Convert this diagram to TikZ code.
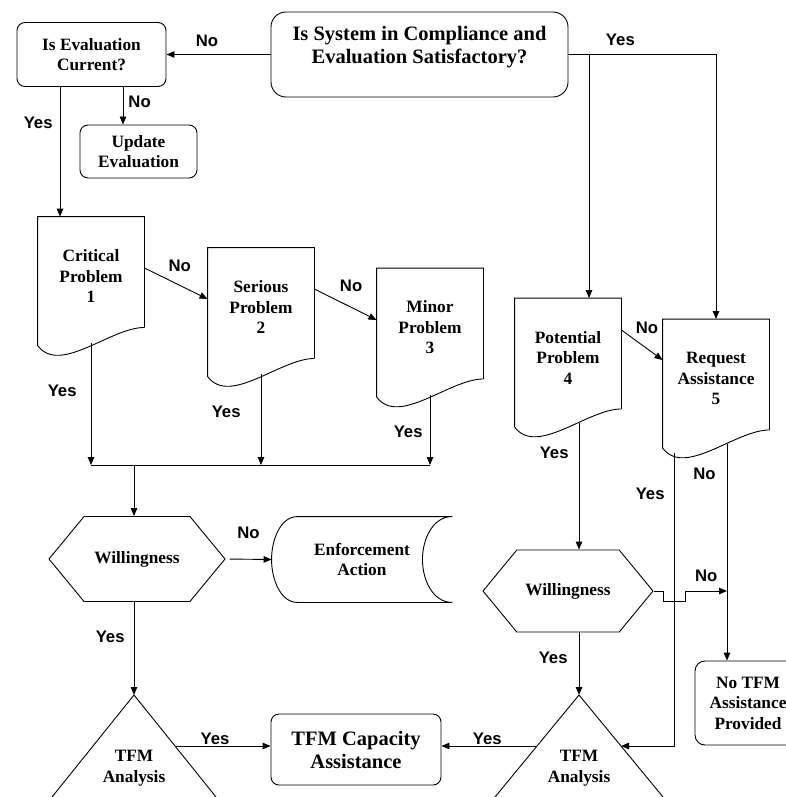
\documentclass[tikz,border=0pt]{standalone}
\usepackage{fontspec}
\setmainfont{Liberation Serif}
\newfontfamily\labelfont{Liberation Sans}
\usetikzlibrary{arrows.meta,positioning,shapes.symbols}

\begin{document}
\begin{tikzpicture}[x=1pt,y=-1pt,>={Triangle[length=8pt,width=6.5pt]},line width=0.9pt]
	\clip (0,0) rectangle (786,797);
	\tikzset{every node/.style={align=center,font=\fontsize{17.3}{20.5}\selectfont\bfseries}}
	\tikzset{box/.style={draw,rounded corners=8pt,inner sep=0pt}}
	\tikzset{bigtext/.style={font=\fontsize{20.5}{23}\selectfont\bfseries}}
	\tikzset{docbox/.style={minimum width=106pt,minimum height=118pt,inner sep=0pt}}
	\tikzset{hexbox/.style={draw,signal,signal to=west and east,signal pointer angle=101,inner sep=0pt}}
	\tikzset{lbl/.style={font=\fontsize{16.7}{20}\selectfont\labelfont\bfseries,inner sep=2pt}}
	% boxes
	\node[box,bigtext,rounded corners=15pt,minimum width=297pt,minimum height=85pt] (sys) at (419.5,54.5) {Is System in Compliance and\\Evaluation Satisfactory?\\[-4pt]~};
	\node[box,minimum width=149pt,minimum height=64pt] (eval) at (91.5,54.5) {Is Evaluation\\Current?};
	\node[box,minimum width=117pt,minimum height=53pt] (upd) at (138.5,151.5) {Update\\Evaluation};
	\node[docbox] (crit) at (91,276) {Critical\\Problem\\1};
	\node[docbox] (serious) at (261,307) {Serious\\Problem\\2};
	\node[docbox] (minor) at (430,327.5) {Minor\\Problem\\3};
	\node[docbox] (potential) at (568,357.5) {Potential\\Problem\\4};
	\node[docbox] (request) at (716,378.5) {Request\\Assistance\\5};
	\node[hexbox,minimum width=176pt,minimum height=85pt] (will1) at (137,559) {Willingness};
	\node[minimum width=180pt,minimum height=85pt,inner sep=0pt] (enf) at (362,559.5) {Enforcement\\Action};
	\node[hexbox,minimum width=170pt,minimum height=82pt] (will2) at (568,591) {Willingness};
	\node[box,bigtext,minimum width=170pt,minimum height=71pt] (cap) at (356,749.5) {TFM Capacity\\Assistance};
	\node[box,rounded corners=10pt,minimum width=106pt,minimum height=84pt] (notfm) at (748,703) {No TFM\\Assistance\\Provided};
	\node (tfm1) at (134,768) {TFM\\Analysis};
	\node (tfm2) at (579,768) {TFM\\Analysis};
	\coordinate (apex1) at (134,695);
	\coordinate (apex2) at (579,695);
	\coordinate (bus) at (134,465);
	% outlines
	\foreach \n in {crit,serious,minor,potential,request}
		\draw ([yshift=8pt]\n.south east) -- (\n.north east) -- (\n.north west) -- ([yshift=-10pt]\n.south west) .. controls +(22,30) and +(-34,0) .. ([yshift=8pt]\n.south east);
	\draw (enf.north east) -- ([xshift=26pt]enf.north west) .. controls +(-17,0) and +(0,-20) .. (enf.west)
		.. controls +(0,20) and +(-17,0) .. ([xshift=26pt]enf.south west) -- (enf.south east)
		.. controls +(-20,0) and +(0,20) .. ([xshift=-30pt]enf.east) .. controls +(0,-20) and +(-20,0) .. (enf.north east);
	\draw (apex1) -- ++(-164,204) (apex1) -- node[coordinate,pos=.25] (t1r) {} ++(164,204);
	\draw (apex2) -- node[coordinate,pos=.25] (t2l) {} ++(-168,204) (apex2) -- node[coordinate,pos=.25] (t2r) {} ++(168,204);
	% left branch
	\path[->] (sys.west) edge node[lbl,above=5.5pt,pos=.61] {No} (eval.east);
	\draw[->] ([xshift=31.5pt]eval.south) -- node[lbl,right=3pt,pos=.4] {No} ([xshift=31.5pt]eval.south |- upd.north);
	\draw[->] ([xshift=-31.5pt]eval.south) -- node[lbl,left=5pt,pos=.28] {Yes} ([xshift=-31.5pt]eval.south |- crit.north);
	\path[->] ([yshift=8pt]crit.east) edge node[lbl,above=11pt,pos=.56] {No} ([yshift=8pt]serious.west);
	\path[->] ([yshift=18pt]serious.east) edge node[lbl,above=13pt,pos=.59] {No} ([yshift=7.5pt]minor.west);
	\draw[->] ([yshift=-8pt]crit.south) -- node[lbl,left=12pt,pos=.39] {Yes} (crit.south |- bus);
	\draw[->] ([yshift=-8pt]serious.south) -- node[lbl,left=18pt,pos=.41] {Yes} (serious.south |- bus);
	\draw[->] ([yshift=-8pt]minor.south) -- node[lbl,left=5pt,pos=.52] {Yes} (minor.south |- bus);
	\draw (crit.south |- bus) -- (minor.south |- bus);
	\draw[->] (bus) -- (bus |- will1.north);
	\path[->] (will1.east) edge[shorten <=4pt] node[lbl,above=18pt] {No} (enf.west);
	\draw[->] (bus |- will1.south) -- node[lbl,left=7pt,pos=.38] {Yes} (apex1);
	\draw[->] (t1r) -- node[lbl,above=0pt,inner sep=1pt,pos=.42] {Yes} (t1r -| cap.west);
	% right branch
	\draw[->] (sys.east) -| node[lbl,above=6.5pt,pos=.176] {Yes} (request.north);
	\draw[->] ([xshift=21pt]potential.north |- sys.east) -- ([xshift=21pt]potential.north);
	\path[->] ([yshift=27.5pt]potential.east) edge node[lbl,above=12.5pt,pos=.62] {No} ([yshift=18.5pt]request.west);
	\draw[->] ([yshift=-6pt]potential.south -| apex2) -- node[lbl,left=8pt,pos=.235] {Yes} (will2.north -| apex2);
	\draw[->] (will2.south -| apex2) -- node[lbl,left=9pt,pos=.41] {Yes} (apex2);
	\draw[->] ([xshift=11pt,yshift=-6pt]request.south) -- node[lbl,left=9pt,pos=.136] {No} ([xshift=11pt]request.south |- notfm.north);
	\draw[->] ([xshift=-42pt,yshift=-15pt]request.south) |- node[lbl,left=7pt,pos=.069] {Yes} (t2r);
	\draw[->] (will2.east) -- ++(10,0) -- ++(0,10) -- ++(22,0) -- ++(0,-10) -- node[lbl,above=7pt] {No} ([xshift=11pt]request.south |- will2.east);
	\draw[->] (t2l) -- node[lbl,above=0pt,inner sep=1pt,pos=.52] {Yes} (t2l -| cap.east);
\end{tikzpicture}
\end{document}
